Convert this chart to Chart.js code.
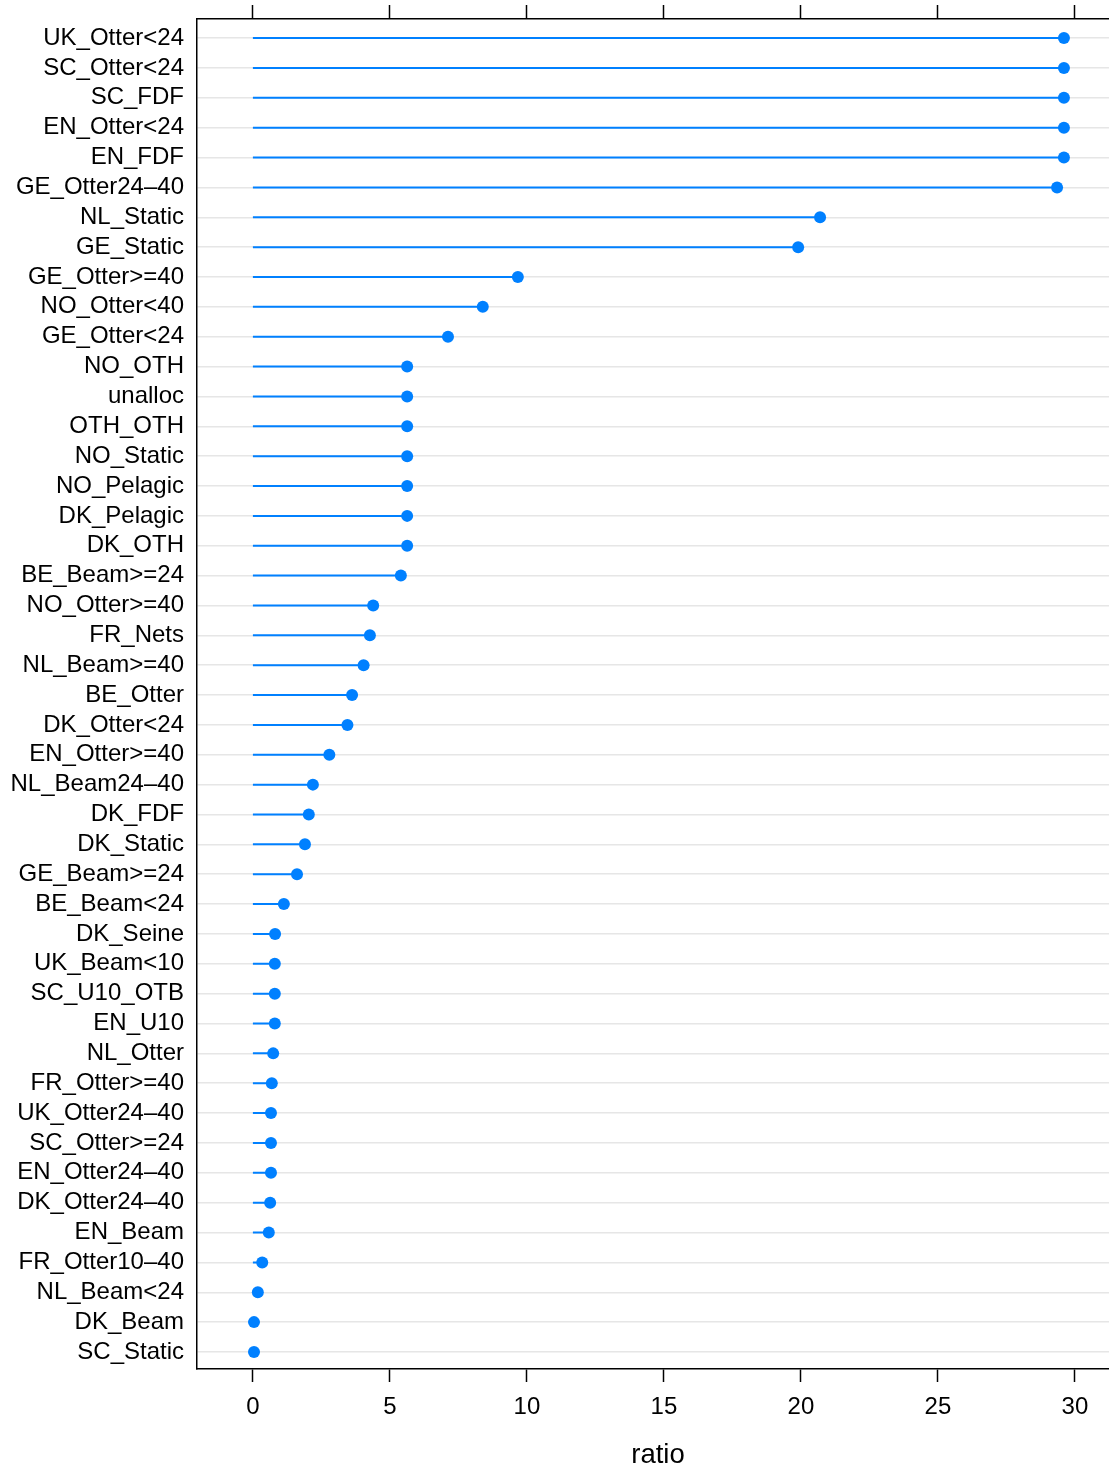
<!DOCTYPE html>
<html>
<head>
<meta charset="utf-8">
<title>ratio</title>
<script src="https://cdn.jsdelivr.net/npm/chart.js@4.4.1/dist/chart.umd.min.js"></script>
<style>
  html, body { margin: 0; padding: 0; background: #fff; overflow: hidden; }
  #wrap { width: 1125px; height: 1465px; }
</style>
</head>
<body>
<div id="wrap"><canvas id="chart" width="1125" height="1465"></canvas></div>
<script>
// Fleet segments, top to bottom
const categories = [
  "UK_Otter<24", "SC_Otter<24", "SC_FDF", "EN_Otter<24", "EN_FDF",
  "GE_Otter24–40", "NL_Static", "GE_Static", "GE_Otter>=40", "NO_Otter<40",
  "GE_Otter<24", "NO_OTH", "unalloc", "OTH_OTH", "NO_Static",
  "NO_Pelagic", "DK_Pelagic", "DK_OTH", "BE_Beam>=24", "NO_Otter>=40",
  "FR_Nets", "NL_Beam>=40", "BE_Otter", "DK_Otter<24", "EN_Otter>=40",
  "NL_Beam24–40", "DK_FDF", "DK_Static", "GE_Beam>=24", "BE_Beam<24",
  "DK_Seine", "UK_Beam<10", "SC_U10_OTB", "EN_U10", "NL_Otter",
  "FR_Otter>=40", "UK_Otter24–40", "SC_Otter>=24", "EN_Otter24–40", "DK_Otter24–40",
  "EN_Beam", "FR_Otter10–40", "NL_Beam<24", "DK_Beam", "SC_Static"
];

const ratio = [
  29.6, 29.6, 29.6, 29.6, 29.6,
  29.35, 20.7, 19.9, 9.67, 8.39,
  7.12, 5.63, 5.63, 5.63, 5.63,
  5.63, 5.63, 5.63, 5.40, 4.39,
  4.27, 4.04, 3.62, 3.45, 2.79,
  2.19, 2.04, 1.90, 1.61, 1.13,
  0.81, 0.80, 0.80, 0.80, 0.74,
  0.69, 0.66, 0.66, 0.66, 0.63,
  0.58, 0.34, 0.18, 0.04, 0.04
];

const xTicks = [0, 5, 10, 15, 20, 25, 30];

const blue = "#0080ff";
const font = "'Liberation Sans', Arial, Helvetica, sans-serif";

// stems from 0 to each value, broken apart with NaN gaps
const stems = [];
ratio.forEach((v, i) => {
  stems.push({ x: 0, y: i + 1 }, { x: v, y: i + 1 }, { x: NaN, y: NaN });
});
const dots = ratio.map((v, i) => ({ x: v, y: i + 1 }));

const xMin = -2.04;
const xMax = 31.61;

function xTickList(scale) {
  scale.ticks = xTicks.map((v) => ({ value: v }));
}

new Chart(document.getElementById("chart"), {
  type: "scatter",
  data: {
    datasets: [
      {
        data: stems,
        showLine: true,
        spanGaps: false,
        borderColor: blue,
        borderWidth: 2,
        pointRadius: 0,
        pointHoverRadius: 0,
      },
      {
        data: dots,
        showLine: false,
        pointRadius: 6,
        pointHoverRadius: 6,
        pointBorderWidth: 0,
        backgroundColor: blue,
        borderColor: blue,
      },
    ],
  },
  options: {
    responsive: false,
    animation: false,
    devicePixelRatio: 1,
    layout: { padding: 0 },
    plugins: {
      legend: { display: false },
      tooltip: { enabled: false },
    },
    scales: {
      x: {
        type: "linear",
        position: "bottom",
        min: xMin,
        max: xMax,
        afterBuildTicks: xTickList,
        afterFit: (scale) => {
          scale.height = 96;
          scale.paddingRight = 0;
        },
        border: { display: true, color: "#000", width: 1.5 },
        grid: {
          drawOnChartArea: false,
          drawTicks: true,
          tickLength: 13,
          tickColor: "#000",
          tickWidth: 1.5,
        },
        ticks: {
          color: "#000",
          padding: 11,
          maxRotation: 0,
          font: { family: font, size: 24 },
        },
        title: {
          display: true,
          text: "ratio",
          color: "#000",
          padding: 0,
          font: { family: font, size: 27.5, lineHeight: 0.7 },
        },
      },
      x2: {
        type: "linear",
        position: "top",
        min: xMin,
        max: xMax,
        afterBuildTicks: xTickList,
        afterFit: (scale) => { scale.height = 19; },
        border: { display: true, color: "#000", width: 1.5 },
        grid: {
          drawOnChartArea: false,
          drawTicks: true,
          tickLength: 14,
          tickColor: "#000",
          tickWidth: 1.5,
        },
        ticks: { display: false },
      },
      y: {
        type: "linear",
        reverse: true,
        min: 0.36,
        max: 45.57,
        afterBuildTicks: (scale) => {
          scale.ticks = categories.map((_, i) => ({ value: i + 1 }));
        },
        afterFit: (scale) => {
          scale.width = 197;
          // labels fit inside the rows, no extra room above or below
          scale.paddingTop = 0;
          scale.paddingBottom = 0;
        },
        border: { display: true, color: "#000", width: 1.5 },
        grid: {
          color: "#e6e6e6",
          lineWidth: 1.5,
          drawTicks: false,
          tickLength: 0,
        },
        ticks: {
          color: "#000",
          padding: 13,
          autoSkip: false,
          font: { family: font, size: 24 },
          callback: (v) => categories[v - 1],
        },
      },
    },
  },
});
</script>
</body>
</html>
